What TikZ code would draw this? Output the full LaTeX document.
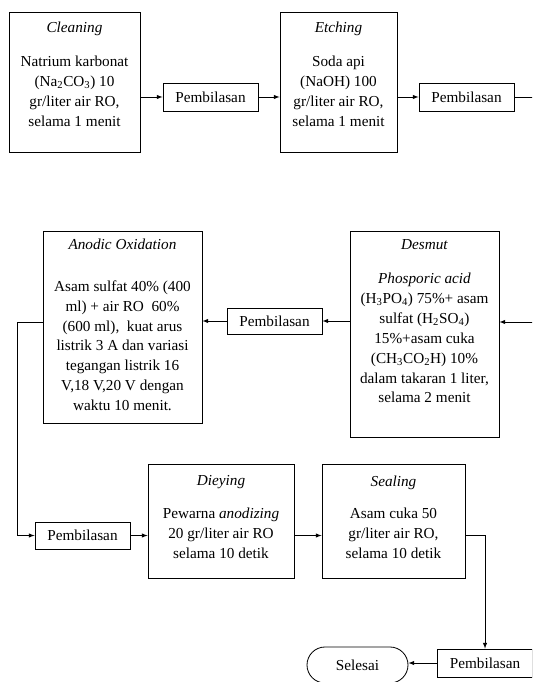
\documentclass[tikz,border=0pt]{standalone}
\usepackage{fontspec}
\setmainfont{Liberation Serif}
\usetikzlibrary{positioning,shapes.misc}
\begin{document}
\begin{tikzpicture}[x=0.03cm,y=-0.03cm,every node/.style={font=\fontsize{13}{17}\selectfont},stage/.style={draw,rectangle,line width=0.7pt,inner sep=0},stagetext/.style={align=center,inner sep=0},rinse/.style={draw,rectangle,line width=0.7pt,minimum width=2.85cm,minimum height=0.84cm,inner sep=0},tostage/.style={line width=0.7pt,->,>=latex}]
\useasboundingbox (0,0) rectangle (532,682);
\clip (0,0) rectangle (532,682);
\node[stage,minimum width=3.93cm,minimum height=4.2cm] (clean) at (74.5,82) {};
\node[stagetext,below=0.3cm of clean.north] (cleantxt) {\textit{Cleaning}\\[12pt]Natrium karbonat\\(Na\textsubscript{2}CO\textsubscript{3}) 10\\gr/liter air RO,\\selama 1 menit};
\node[rinse] (pem1) at (210.5,97) {Pembilasan};
\node[stage,minimum width=3.51cm,minimum height=4.2cm] (etch) at (338.5,82) {};
\node[stagetext,below=0.3cm of etch.north] (etchtxt) {\textit{Etching}\\[12pt]Soda api\\(NaOH) 100\\gr/liter air RO,\\selama 1 menit};
\node[rinse] (pem2) at (466.5,97) {Pembilasan};
\coordinate (turnA) at (550,97);
\coordinate (turnB) at (550,322);
\node[stage,minimum width=4.47cm,minimum height=6.18cm] (desmut) at (424.5,334) {};
\node[stagetext,below=0.26cm of desmut.north] (desmuttxt) {\textit{Desmut}\\[12pt]\textit{Phosporic acid}\\(H\textsubscript{3}PO\textsubscript{4}) 75\%+ asam\\sulfat (H\textsubscript{2}SO\textsubscript{4})\\15\%+asam cuka\\(CH\textsubscript{3}CO\textsubscript{2}H) 10\%\\dalam takaran 1 liter,\\selama 2 menit};
\node[rinse,minimum height=0.78cm] (pemM) at (274.5,321) {Pembilasan};
\node[stage,minimum width=4.77cm,minimum height=5.76cm] (anod) at (122.5,327) {};
\node[stagetext,below=0.23cm of anod.north] (anodtxt) {\textit{Anodic Oxidation}\\[19pt]Asam sulfat 40\% (400\\ml) + air RO\ \ 60\%\\(600 ml),\ \ kuat arus\\listrik 3 A dan variasi\\tegangan listrik 16\\V,18 V,20 V dengan\\waktu 10 menit.};
\coordinate (turnC) at (17,322);
\node[rinse,minimum height=0.81cm] (pem3) at (82.5,535.5) {Pembilasan};
\node[stage,minimum width=4.38cm,minimum height=3.42cm] (dye) at (221,521) {};
\node[stagetext,below=0.35cm of dye.north] (dyetxt) {\textit{Dieying}\\[11pt]Pewarna \textit{anodizing}\\20 gr/liter air RO\\selama 10 detik};
\node[stage,minimum width=4.29cm,minimum height=3.42cm] (seal) at (393.5,521) {};
\node[stagetext,below=0.35cm of seal.north] (sealtxt) {\textit{Sealing}\\[11pt]Asam cuka 50\\gr/liter air RO,\\selama 10 detik};
\node[rinse] (pem4) at (485,663) {Pembilasan};
\node[draw,rounded rectangle,line width=0.7pt,minimum width=3.03cm,minimum height=1.08cm,inner sep=0] (selesai) at (357.5,665) {Selesai};
\draw[tostage] (pem1 -| clean.east) -- (pem1.west);
\draw[tostage] (pem1.east) -- (pem1 -| etch.west);
\draw[tostage] (pem2 -| etch.east) -- (pem2.west);
\draw[tostage] (pem2.east) -- (turnA) -- (turnB) -- (turnB -| desmut.east);
\draw[tostage] (pemM -| desmut.west) -- (pemM.east);
\draw[tostage] (pemM.west) -- (pemM -| anod.east);
\draw[tostage] (turnC -| anod.west) -- (turnC) |- (pem3.west);
\draw[tostage] (pem3.east) -- (pem3 -| dye.west);
\draw[tostage] (pem3 -| dye.east) -- (pem3 -| seal.west);
\draw[tostage] (pem3 -| seal.east) -| (pem4.north);
\draw[tostage] (pem4.west) -- (pem4 -| selesai.east);
\end{tikzpicture}
\end{document}
